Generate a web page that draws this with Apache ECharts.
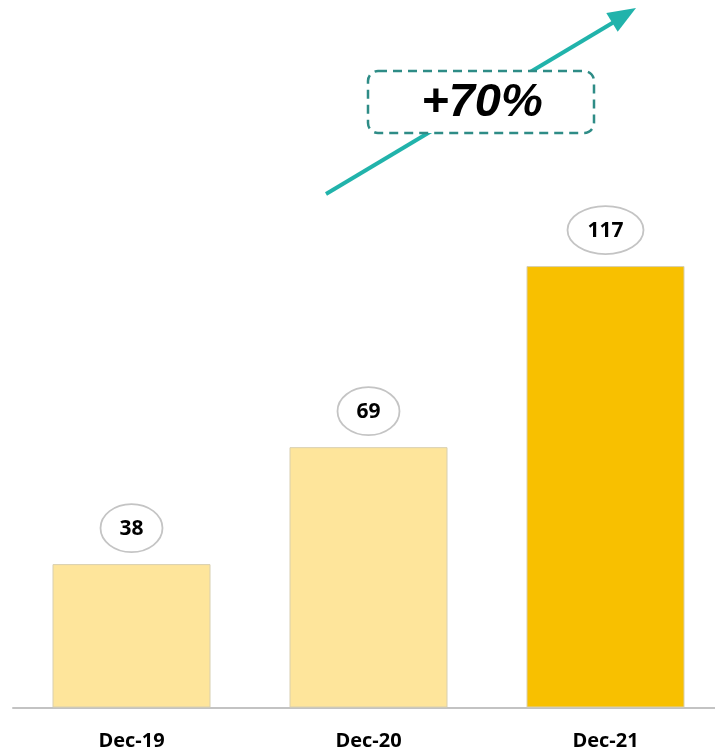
<!DOCTYPE html>
<html>
<head>
<meta charset="utf-8">
<script src="https://cdn.jsdelivr.net/npm/echarts@6/dist/echarts.min.js"></script>
<style>
  html, body { margin: 0; padding: 0; background: #ffffff; }
  #chart { width: 715px; height: 753px; }
</style>
</head>
<body>
<div id="chart"></div>
<script>
// ---- Data ----
const categories = ['Dec-19', 'Dec-20', 'Dec-21'];
const values = [38, 69, 117];
const barColors = ['#FEE59B', '#FEE59B', '#F8C000'];
const growthLabel = '+70%';

const chart = echarts.init(document.getElementById('chart'), null, { renderer: 'canvas' });

const option = {
  backgroundColor: '#ffffff',
  animation: false,
  grid: { left: 13, right: -9, top: 217, bottom: 45.5, containLabel: false, outerBoundsMode: 'none' },
  xAxis: {
    type: 'category',
    data: categories,
    axisLine: { show: true, lineStyle: { color: '#C3C3C3', width: 2 } },
    axisTick: { show: false },
    axisLabel: {
      margin: 24,
      color: '#000000',
      fontFamily: 'Open Sans',
      fontWeight: 'bold',
      fontSize: 20
    }
  },
  yAxis: {
    type: 'value',
    min: 0,
    max: 130,
    show: false,
    splitLine: { show: false }
  },
  series: [
    {
      type: 'bar',
      barWidth: 158,
      data: values.map((v, i) => ({
        value: v,
        itemStyle: { color: barColors[i], borderColor: '#D8CFB0', borderWidth: 1 }
      })),
      z: 2
    },
    {
      type: 'custom',
      data: values.map((v, i) => [i, v]),
      z: 5,
      renderItem: function (params, api) {
        const idx = api.value(0);
        const val = api.value(1);
        const pt = api.coord([idx, val]);
        const text = String(values[params.dataIndex]);
        const rx = text.length >= 3 ? 38 : 31;
        const ry = 24;
        const cy = pt[1] - 36;
        return {
          type: 'group',
          children: [
            {
              type: 'ellipse',
              shape: { cx: pt[0], cy: cy, rx: rx, ry: ry },
              style: { fill: '#ffffff', stroke: '#C4C4C4', lineWidth: 1.8 }
            },
            {
              type: 'text',
              x: pt[0],
              y: cy + 1,
              style: {
                text: text,
                align: 'center',
                verticalAlign: 'middle',
                fill: '#000000',
                font: 'bold 21px "Open Sans"'
              }
            }
          ]
        };
      }
    }
  ],
  graphic: [
    {
      type: 'line',
      shape: { x1: 326, y1: 194, x2: 614, y2: 22 },
      style: { stroke: '#21B3AB', lineWidth: 4 },
      z: 10
    },
    {
      type: 'polygon',
      shape: { points: [[636, 8], [617.7, 31.8], [606.3, 13.0]] },
      style: { fill: '#21B3AB' },
      z: 10
    },
    {
      type: 'rect',
      shape: { x: 368, y: 71, width: 226, height: 62, r: 10 },
      style: { fill: '#ffffff', stroke: '#2E8C86', lineWidth: 2.5, lineDash: [9, 6] },
      z: 11
    },
    {
      type: 'text',
      x: 482,
      y: 103,
      style: {
        text: growthLabel,
        align: 'center',
        verticalAlign: 'middle',
        fill: '#000000',
        font: 'italic bold 47px "Liberation Sans"'
      },
      z: 12
    }
  ]
};

chart.setOption(option);
</script>
</body>
</html>
